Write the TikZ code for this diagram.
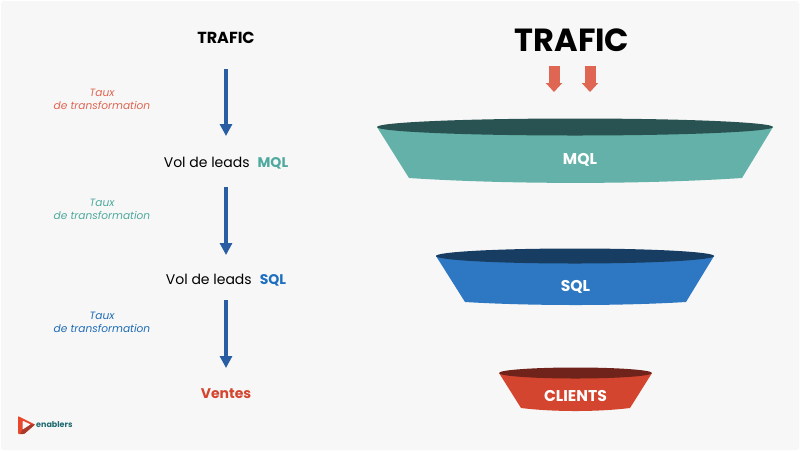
\documentclass[tikz,border=0pt]{standalone}
\usepackage{fontspec}
\setmainfont{Poppins}
\usetikzlibrary{arrows.meta}
\definecolor{bg}{HTML}{F7F7F7}
\definecolor{teal}{HTML}{63B1A8}
\definecolor{tealtext}{HTML}{4FA99E}
\definecolor{tealdark}{HTML}{295352}
\definecolor{sqlblue}{HTML}{2E78C3}
\definecolor{sqltext}{HTML}{1F6FC0}
\definecolor{sqldark}{HTML}{183D63}
\definecolor{clientred}{HTML}{D4452F}
\definecolor{clientdark}{HTML}{70231B}
\definecolor{coral}{HTML}{DF6653}
\definecolor{arrowblue}{HTML}{2A5EA3}
\definecolor{taux3}{HTML}{1F6CB5}
\definecolor{logoteal}{HTML}{1F6B70}
\definecolor{logored}{HTML}{E8472B}
\definecolor{logodark}{HTML}{A83A2C}
\tikzset{
  x=1pt,y=-1pt,
  flow/.style={draw=arrowblue,line width=4pt,-{Triangle[width=12pt,length=12pt]}},
  inflow/.style={draw=coral,line width=11pt,-{Triangle[width=16pt,length=9pt]}},
  label/.style={inner sep=0pt,align=center,font=\fontsize{14}{16}\selectfont},
  head/.style={inner sep=0pt,font=\fontsize{16}{18}\selectfont\bfseries},
  taux/.style={inner sep=0pt,align=center,font=\fontsize{10.6}{13.2}\selectfont\itshape},
  infun/.style={inner sep=0pt,text=white,font=\fontsize{15.6}{17}\selectfont\bfseries},
}
\newcommand{\funnelbody}[8]{% left right ytop  lowleft lowright ylow ybottom colour
  \fill[#8] (#1,#3) -- (#4,#6) .. controls ({#4+(#5-#4)*0.3},#7) and ({#4+(#5-#4)*0.7},#7) .. (#5,#6) -- (#2,#3) -- cycle;
}
\begin{document}
\begin{tikzpicture}
\useasboundingbox (0,0) rectangle (800,451);
\fill[white] (0,0) rectangle (800,451);
\fill[bg,rounded corners=3pt] (1,1) rectangle (799,450);

% left column
\node[head] (trafic) at (226,38) {TRAFIC};
\node[label,anchor=base] (mql) at (226,167) {Vol de leads\hspace{8pt}\textcolor{tealtext}{\bfseries MQL}};
\node[label,anchor=base] (sql) at (226,284) {Vol de leads\hspace{8pt}\textcolor{sqltext}{\bfseries SQL}};
\node[inner sep=0pt,text=clientred,font=\fontsize{14}{16}\selectfont\bfseries] (ventes) at (226,394) {Ventes};
\coordinate (a1) at (226,69); \coordinate (b1) at (226,136);
\coordinate (a2) at (226,187); \coordinate (b2) at (226,255);
\coordinate (a3) at (226,300); \coordinate (b3) at (226,368);
\draw[flow] (a1) -- (b1);
\draw[flow] (a2) -- (b2);
\draw[flow] (a3) -- (b3);
\node[taux,text=coral] (t1) at (102,99) {Taux\\de transformation};
\node[taux,text=tealtext] (t2) at (102,209.5) {Taux\\de transformation};
\node[taux,text=taux3] (t3) at (102,322.5) {Taux\\de transformation};

% right column
\node[inner sep=0pt,font=\fontsize{32}{36}\selectfont\bfseries] (bigtrafic) at (572,40) {TRAFIC};
\coordinate (r1) at (554,66); \coordinate (s1) at (554,92);
\coordinate (r2) at (590,66); \coordinate (s2) at (590,92);
\draw[inflow] (r1) -- (s1);
\draw[inflow] (r2) -- (s2);

% funnels
\funnelbody{377}{773}{127}{409}{742}{178}{184.5}{teal}
\fill[tealdark] (575,127) ellipse [x radius=198,y radius=8.5];
\node[infun] (fmql) at (580,159.5) {MQL};

\funnelbody{436}{714}{256}{465}{686}{302}{306}{sqlblue}
\fill[sqldark] (575,256) ellipse [x radius=139,y radius=7.5];
\node[infun] (fsql) at (575.5,287) {SQL};

\funnelbody{499}{652}{373}{521}{630}{408}{412}{clientred}
\fill[clientdark] (575.5,373) ellipse [x radius=76.5,y radius=5.5];
\node[infun] (fcli) at (575.5,395.5) {CLIENTS};

% logo
\fill[logored,even odd rule,rounded corners=0.8pt] (18,416) -- (35,424.5) -- (24,434) -- (18,434) -- cycle
  (22.5,420.5) -- (22.5,430) -- (31,424.5) -- cycle;
\fill[logodark] (20,434) -- (22.5,429.8) -- (31,424.3) -- (35,424.5) -- (24.5,433.7) -- cycle;
\node[inner sep=0pt,anchor=west,text=logoteal,font=\fontsize{8}{10}\selectfont\bfseries] (logo) at (36,424.5) {enablers};
\end{tikzpicture}
\end{document}
